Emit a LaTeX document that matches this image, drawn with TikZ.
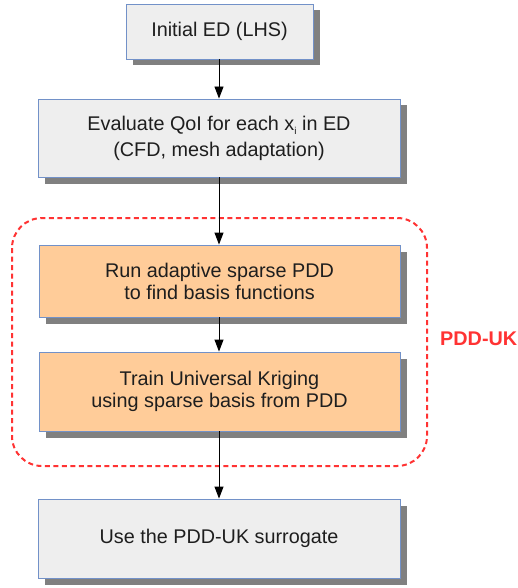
\documentclass[tikz,border=0pt]{standalone}
\usepackage{fontspec}
\setmainfont{Liberation Sans}
\usetikzlibrary{shadows,arrows.meta}
\definecolor{boxline}{RGB}{114,145,200}
\definecolor{grayfill}{RGB}{238,238,238}
\definecolor{orangefill}{RGB}{255,204,153}
\definecolor{shadowgray}{RGB}{128,128,128}
\definecolor{dashred}{RGB}{255,51,51}
\definecolor{txt}{RGB}{30,30,30}
\tikzset{
  stepbox/.style={draw=boxline, line width=0.9pt, text=txt, align=center,
    font=\fontsize{19.8}{22}\selectfont, inner sep=0pt,
    drop shadow={shadow xshift=6.5pt, shadow yshift=-6.5pt, fill=shadowgray, opacity=1}},
  graybox/.style={stepbox, fill=grayfill},
  orangebox/.style={stepbox, fill=orangefill},
  flow/.style={line width=0.9pt, -{Triangle[length=12pt,width=9pt]}},
}
\begin{document}
\begin{tikzpicture}[x=1pt,y=-1pt]
\useasboundingbox (0,0) rectangle (517,588);
\node[graybox, minimum width=187pt, minimum height=55pt] (b1) at (219.5,31.5) {Initial ED (LHS)};
\node[graybox, minimum width=362pt, minimum height=78pt] (b2) at (219,138) {Evaluate QoI for each x\raisebox{-0.45ex}{\fontsize{10}{10}\selectfont i} in ED\\[4pt](CFD, mesh adaptation)};
\draw[dashred, line width=2pt, dash pattern=on 5pt off 3.5pt, rounded corners=30pt] (12,218) rectangle (427,466);
\node[orangebox, minimum width=361pt, minimum height=72pt] (b3) at (219.5,281) {Run adaptive sparse PDD\\to find basis functions};
\node[orangebox, minimum width=361pt, minimum height=79pt] (b4) at (219.5,391.5) {Train Universal Kriging\\using sparse basis from PDD};
\node[graybox, minimum width=362pt, minimum height=79pt] (b5) at (219,538.5) {\raisebox{-2pt}{Use the PDD-UK surrogate}};
\node[text=dashred, font=\fontsize{19.8}{22}\selectfont\bfseries, anchor=west, inner sep=0pt] (lbl) at (440,339) {PDD-UK};
\draw[flow] (b1.south -| 219,0) -- (b2.north -| 219,0);
\draw[flow] (b2.south -| 219,0) -- (b3.north -| 219,0);
\draw[flow] (b3.south -| 219,0) -- (b4.north -| 219,0);
\draw[flow] (b4.south -| 219,0) -- (b5.north -| 219,0);
\end{tikzpicture}
\end{document}
